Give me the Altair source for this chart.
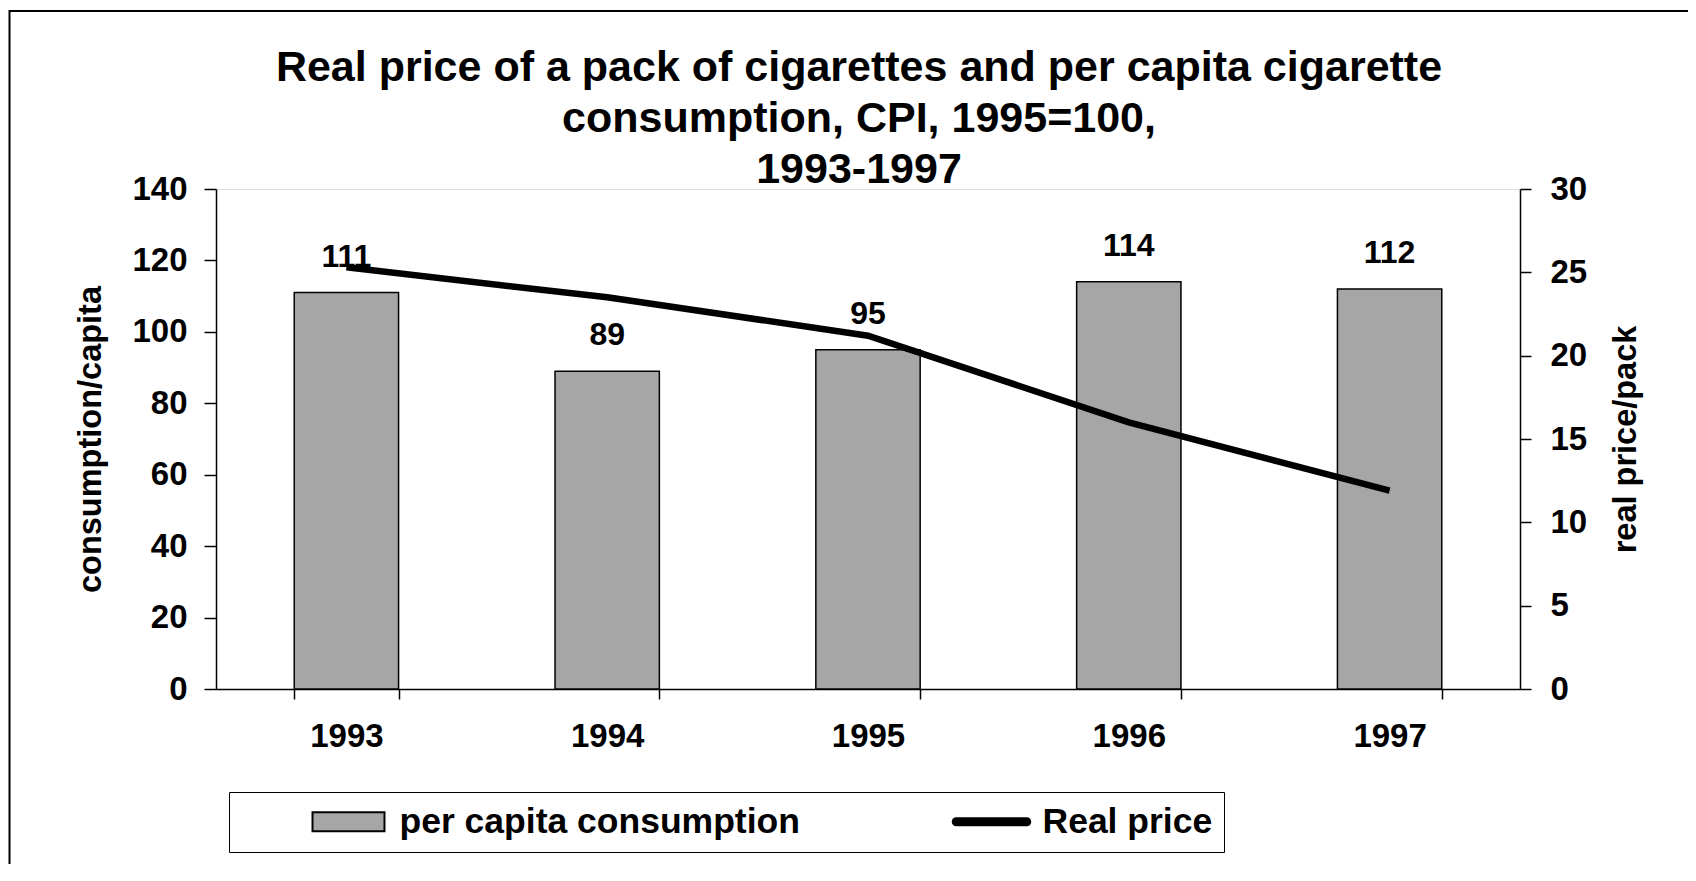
import altair as alt
import pandas as pd

# ---- data ----
years = ["1993", "1994", "1995", "1996", "1997"]
consumption = [111, 89, 95, 114, 112]          # per capita consumption (left axis)
real_price = [25.3, 23.5, 21.2, 16.0, 11.9]    # real price per pack (right axis)
series_names = ["per capita consumption", "Real price"]
left_ticks = [0, 20, 40, 60, 80, 100, 120, 140]
right_ticks = [0, 5, 10, 15, 20, 25, 30]
title_lines = [
    "Real price of a pack of cigarettes and per capita cigarette",
    "consumption, CPI, 1995=100,",
    "1993-1997",
]

df = pd.DataFrame({"year": years, "consumption": consumption, "price": real_price})
legend_df = pd.DataFrame({"series": series_names})
frame_df = pd.DataFrame({"frame": [1]})

FONT = "Liberation Sans"
BAR_FILL = "#a6a6a6"
RECT_PATH = "M-0.947,-0.25H0.947V0.25H-0.947Z"
LINE_PATH = "M-0.93,-0.09H0.93A0.09,0.09 0 0 1 0.93,0.09H-0.93A0.09,0.09 0 0 1 -0.93,-0.09Z"

x_scale = alt.Scale(paddingInner=0.6, paddingOuter=0.3)
x_axis = alt.Axis(
    labelAngle=0, labelFont=FONT, labelFontSize=33, labelFontWeight="bold",
    labelColor="black", labelPadding=21, tickBand="extent", tickSize=10,
    tickColor="black", tickWidth=1.5, domainColor="black", domainWidth=1.5,
    grid=False,
)

base = alt.Chart(df)

bars = base.mark_bar(fill=BAR_FILL, stroke="black", strokeWidth=1.5).encode(
    x=alt.X("year:N", sort=years, title=None, scale=x_scale, axis=x_axis),
    y=alt.Y(
        "consumption:Q", title="consumption/capita",
        scale=alt.Scale(domain=[0, 140], nice=False),
        axis=alt.Axis(
            orient="left", values=left_ticks, grid=False,
            labelFont=FONT, labelFontSize=33, labelFontWeight="bold", labelColor="black",
            labelPadding=17, tickSize=12, tickColor="black", tickWidth=1.5,
            domainColor="black", domainWidth=1.5,
            titleFont=FONT, titleFontSize=32.5, titleFontWeight="bold", titleColor="black",
            titlePadding=24,
        ),
    ),
)

labels = base.mark_text(
    font=FONT, fontSize=32, fontWeight="bold", color="black",
    baseline="alphabetic", dy=-26,
).encode(
    x=alt.X("year:N", sort=years),
    y=alt.Y("consumption:Q"),
    text=alt.Text("consumption:Q"),
)

line = base.mark_line(color="black", strokeWidth=6.5).encode(
    x=alt.X("year:N", sort=years),
    y=alt.Y(
        "price:Q", title="real price/pack",
        scale=alt.Scale(domain=[0, 30], nice=False),
        axis=alt.Axis(
            orient="right", values=right_ticks, grid=False,
            labelFont=FONT, labelFontSize=33, labelFontWeight="bold", labelColor="black",
            labelPadding=19, tickSize=11, tickColor="black", tickWidth=1.5,
            domainColor="black", domainWidth=1.5,
            titleFont=FONT, titleFontSize=32.5, titleFontWeight="bold", titleColor="black",
            titleAngle=270, titleBaseline="top", titlePadding=23,
        ),
    ),
)

legend_params = dict(
    title=None, orient="none", legendX=13, legendY=603, direction="horizontal",
    padding=11.5, strokeColor="black", symbolSize=5776, clipHeight=36,
    symbolStrokeColor="black", symbolStrokeWidth=2, symbolOpacity=1,
    symbolOffset=69, labelOffset=12, columnPadding=83,
    labelFont=FONT, labelFontSize=35.5, labelFontWeight="bold", labelColor="black",
    labelLimit=0,
)

legend_layer = alt.Chart(legend_df).mark_point(
    filled=True, opacity=1, strokeWidth=2
).encode(
    fill=alt.Fill("series:N", scale=alt.Scale(domain=series_names, range=[BAR_FILL, "black"]),
                  legend=alt.Legend(**legend_params)),
    stroke=alt.Stroke("series:N", scale=alt.Scale(domain=series_names, range=["black", "black"]),
                      legend=alt.Legend(**legend_params)),
    shape=alt.Shape("series:N", scale=alt.Scale(domain=series_names, range=[RECT_PATH, LINE_PATH]),
                    legend=alt.Legend(**legend_params)),
).transform_filter("false")

frame = alt.Chart(frame_df).mark_rect(
    fillOpacity=0, stroke="black", strokeWidth=2, clip=False
).encode(
    x=alt.value(-206.5), x2=alt.value(1480), y=alt.value(-178), y2=alt.value(700)
)

chart = alt.layer(
    alt.layer(bars, labels),
    line,
    legend_layer,
    frame,
).resolve_scale(y="independent").properties(
    width=1304,
    height=500,
    padding={"left": 208, "top": 181, "right": 168, "bottom": 175},
    autosize=alt.AutoSizeParams(type="none"),
    title=alt.TitleParams(
        text=title_lines, font=FONT, fontSize=43, fontWeight="bold", color="black",
        lineHeight=51, anchor="middle", frame="group", offset=-182, dx=-9,
    ),
).configure_view(
    fill="#fafafa", stroke="#808080", strokeWidth=1.5
).configure_legend(
    strokeWidth=2
).configure(background="white")

chart.save("out.html", embed_options={"renderer": "svg", "actions": False})
